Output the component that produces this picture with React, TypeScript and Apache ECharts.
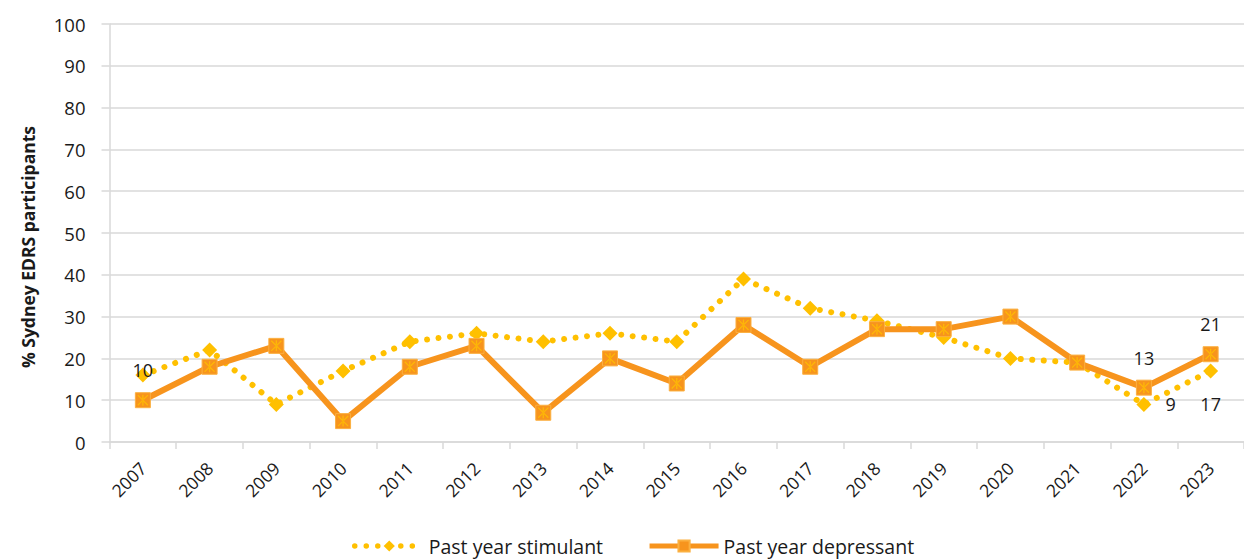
import React, { useEffect, useRef } from "react";
import * as echarts from "echarts";

const years = ["2007","2008","2009","2010","2011","2012","2013","2014","2015","2016","2017","2018","2019","2020","2021","2022","2023"];
const stimulant = [16, 22, 9, 17, 24, 26, 24, 26, 24, 39, 32, 29, 25, 20, 19, 9, 17];
const depressant = [10, 18, 23, 5, 18, 23, 7, 20, 14, 28, 18, 27, 27, 30, 19, 13, 21];
const yTicks = { min: 0, max: 100, interval: 10 };
const yTitle = "% Sydney EDRS participants";
// data labels shown in the reference: index -> position
const stimulantLabels: Record<number, string> = { 15: "right", 16: "bottom" };
const depressantLabels: Record<number, string> = { 0: "top", 15: "top", 16: "top" };

const STIM = "#FFC000";
const DEP = "#F7941D";
const FONT = "'Open Sans', 'Noto Sans', sans-serif";
const STAR = "path://M4.4 0H5.6V10H4.4Z M0 0.8L0.8 0L10 9.2L9.2 10Z M10 0.8L9.2 0L0 9.2L0.8 10Z";

function withLabels(values: number[], labels: Record<number, string>, dist: Record<string, number>) {
  return values.map((v, i) =>
    labels[i]
      ? {
          value: v,
          label: {
            show: true,
            position: labels[i],
            distance: dist[labels[i]],
            color: "#1a1a1a",
            fontSize: 18,
            fontFamily: FONT,
          },
        }
      : v
  );
}

export default function App() {
  const ref = useRef<HTMLDivElement>(null);
  useEffect(() => {
    document.body.style.margin = "0";
    const chart = echarts.init(ref.current!, undefined, { renderer: "svg" });
    chart.setOption({
      animation: false,
      textStyle: { fontFamily: FONT },
      grid: { left: 109.5, top: 24, width: 1144, height: 418, containLabel: false },
      legend: {
        left: 352,
        top: 535,
        padding: 0,
        itemWidth: 69,
        itemHeight: 14,
        itemGap: 44,
        textStyle: { fontSize: 19.5, lineHeight: 22, color: "#1a1a1a", fontFamily: FONT },
        data: [
          { name: "Past year stimulant", lineStyle: { width: 5.5 } },
          { name: "Past year depressant", lineStyle: { width: 5 } },
        ],
      },
      graphic: [
        {
          type: "text",
          x: 28,
          y: 247,
          rotation: Math.PI / 2,
          style: {
            text: yTitle,
            fontSize: 17.5,
            fontWeight: "bold",
            fontFamily: FONT,
            fill: "#1a1a1a",
            align: "center",
            verticalAlign: "middle",
          },
        },
      ],
      xAxis: {
        type: "category",
        data: years,
        boundaryGap: true,
        axisLine: { lineStyle: { color: "#d9d9d9", width: 1.5 } },
        axisTick: { show: true, length: 7, lineStyle: { color: "#d9d9d9", width: 1.5 } },
        axisLabel: { rotate: 45, margin: 23, fontSize: 17.5, color: "#1a1a1a", fontFamily: FONT },
      },
      yAxis: {
        type: "value",
        min: yTicks.min,
        max: yTicks.max,
        interval: yTicks.interval,
        axisLine: { show: true, lineStyle: { color: "#d9d9d9", width: 1.5 } },
        axisTick: { show: true, length: 8, lineStyle: { color: "#d9d9d9", width: 1.5 } },
        axisLabel: { fontSize: 18.5, color: "#1a1a1a", margin: 24, fontFamily: FONT },
        splitLine: { lineStyle: { color: "#d9d9d9", width: 1.5 } },
      },
      series: [
        {
          name: "Past year stimulant",
          type: "line",
          data: withLabels(stimulant, stimulantLabels, { right: 14, bottom: 17 }),
          symbol: "diamond",
          symbolSize: 15,
          itemStyle: { color: STIM },
          lineStyle: { color: STIM, width: 6, type: [0.01, 11.5], cap: "round" },
          z: 2,
        },
        {
          name: "Past year depressant",
          type: "line",
          data: withLabels(depressant, depressantLabels, { top: 13 }),
          symbol: "rect",
          symbolSize: 15,
          itemStyle: { color: DEP, borderColor: "#FBB040", borderWidth: 1 },
          lineStyle: { color: DEP, width: 6 },
          z: 3,
        },
        {
          name: "depressant-star",
          type: "scatter",
          data: depressant,
          symbol: STAR,
          symbolSize: 11,
          itemStyle: { color: STIM },
          silent: true,
          z: 4,
        },
      ],
    });
    return () => chart.dispose();
  }, []);
  return <div ref={ref} style={{ width: 1244, height: 560 }} />;
}
